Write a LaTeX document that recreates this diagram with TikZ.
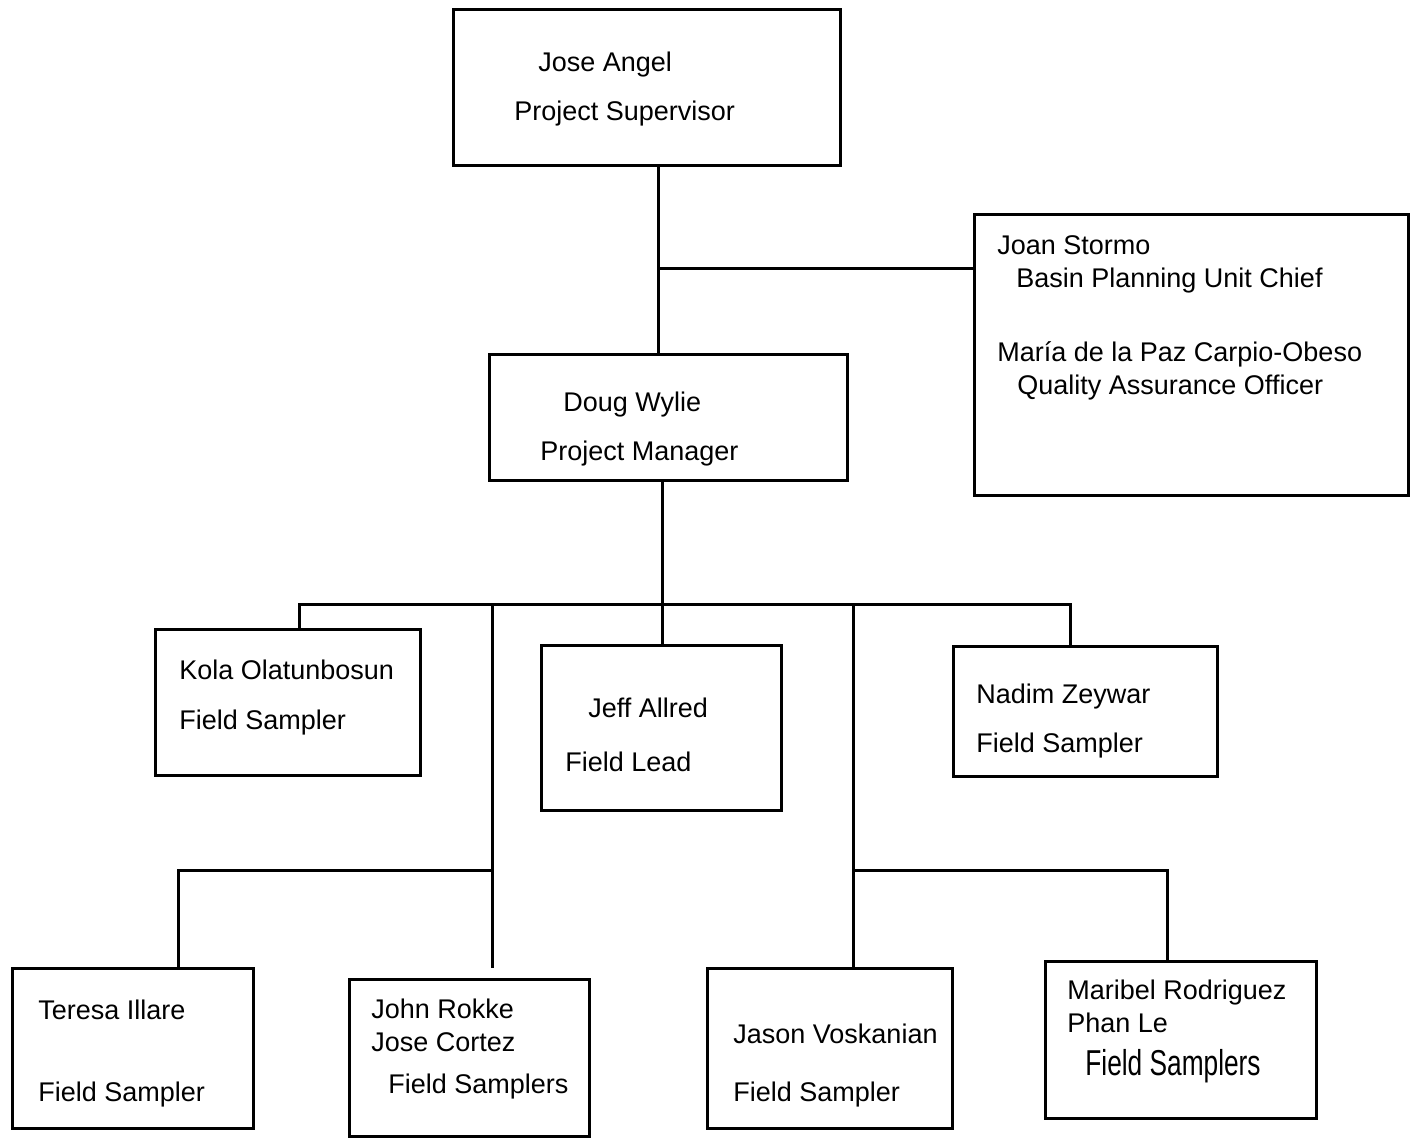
\documentclass[tikz,border=0pt]{standalone}
\usepackage{fontspec}
\usepackage{graphicx}
\setmainfont{Liberation Sans}
\usetikzlibrary{fit}
\begin{document}
\begin{tikzpicture}[x=0.5pt,y=-0.5pt,
  box/.style={draw, line width=1.5pt, inner sep=0pt, rectangle},
  link/.style={line width=1.5pt},
  txt/.style={anchor=base west, inner sep=0pt, font=\fontsize{13.5}{16}\selectfont}]
% page
\fill[white] (0,0) rectangle (1414,1138);
\useasboundingbox (0,0) rectangle (1414,1138);

% boxes
\node[box, fit={(453,10) (840,166)}] (angel) {};
\node[box, fit={(974,215) (1408,496)}] (joan) {};
\node[box, fit={(489,355) (847,481)}] (doug) {};
\node[box, fit={(155,630) (420,775)}] (kola) {};
\node[box, fit={(541,646) (781,810)}] (jeff) {};
\node[box, fit={(953,647) (1217,776)}] (nadim) {};
\node[box, fit={(12,968) (253,1128)}] (teresa) {};
\node[box, fit={(349,979) (589,1136)}] (john) {};
\node[box, fit={(707,968) (952,1128)}] (jason) {};
\node[box, fit={(1045,961) (1316,1118)}] (maribel) {};

% texts
\node[txt] (tAngel) at (538,72) {Jose Angel};
\node[txt] (tAngelR) at (514,121) {Project Supervisor};
\node[txt] (tJoan) at (997,255) {Joan Stormo};
\node[txt] (tJoanR) at (1016,288) {Basin Planning Unit Chief};
\node[txt] (tMaria) at (997,362) {María de la Paz Carpio-Obeso};
\node[txt] (tMariaR) at (1017,395) {Quality Assurance Officer};
\node[txt] (tDoug) at (563,412) {Doug Wylie};
\node[txt] (tDougR) at (540,461) {Project Manager};
\node[txt] (tKola) at (179,680) {Kola Olatunbosun};
\node[txt] (tKolaR) at (179,729) {Field Sampler};
\node[txt] (tJeff) at (588,718) {Jeff Allred};
\node[txt] (tJeffR) at (565,771) {Field Lead};
\node[txt] (tNadim) at (976,704) {Nadim Zeywar};
\node[txt] (tNadimR) at (976,752) {Field Sampler};
\node[txt] (tTeresa) at (38,1019) {Teresa Illare};
\node[txt] (tTeresaR) at (38,1101) {Field Sampler};
\node[txt] (tJohn) at (371,1018) {John Rokke};
\node[txt] (tJose) at (371,1051) {Jose Cortez};
\node[txt] (tJohnR) at (388,1093) {Field Samplers};
\node[txt] (tJason) at (733,1043) {Jason Voskanian};
\node[txt] (tJasonR) at (733,1101) {Field Sampler};
\node[txt] (tMaribel) at (1067,999) {Maribel Rodriguez};
\node[txt] (tPhan) at (1067,1032) {Phan Le};
\node[txt] (tMaribelR) at (1085,1075) {\scalebox{0.73}[1]{\fontsize{18}{20}\selectfont Field Samplers}};

% connector points
\coordinate (topx) at (658,0);
\coordinate (staff) at (658,269);
\coordinate (bus) at (662,605);
\coordinate (busL) at (299,605);
\coordinate (busR) at (1070,605);
\coordinate (legL) at (492,605);
\coordinate (legLj) at (492,870);
\coordinate (legLend) at (492,968);
\coordinate (legLt) at (178,870);
\coordinate (legR) at (853,605);
\coordinate (legRj) at (853,870);
\coordinate (legRt) at (1167,870);

% connectors
\draw[link] (angel.south -| topx) -- (doug.north -| topx);
\draw[link] (staff) -- (joan.west |- staff);
\draw[link] (doug.south -| bus) -- (bus);
\draw[link] (kola.north -| busL) -- (busL) -- (busR) -- (nadim.north -| busR);
\draw[link] (bus) -- (jeff.north -| bus);
\draw[link] (legL) -- (legLend);
\draw[link] (legLj) -- (legLt) -- (teresa.north -| legLt);
\draw[link] (legR) -- (jason.north -| legR);
\draw[link] (legRj) -- (legRt) -- (maribel.north -| legRt);
\end{tikzpicture}
\end{document}
